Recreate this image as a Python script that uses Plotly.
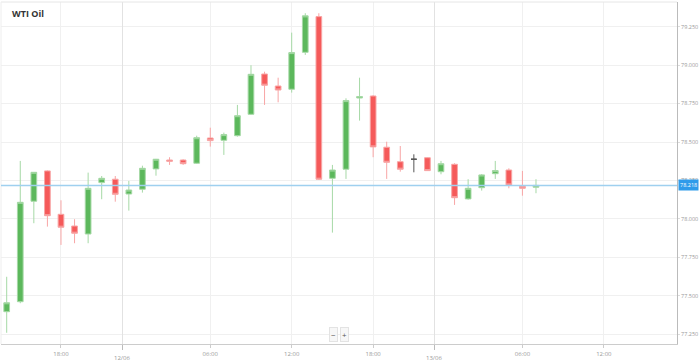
import plotly.graph_objects as go

# ---- data (hourly candles, WTI Oil) ----
candle_index = list(range(40))
opens = [77.397, 77.462, 78.115, 78.312, 78.030, 77.954, 77.902, 78.236, 78.258, 78.162,
         78.193, 78.325, 78.383, 78.383, 78.362, 78.526, 78.511, 78.541, 78.680, 78.942,
         78.864, 78.843, 79.083, 79.315, 78.264, 78.323, 78.786, 78.799, 78.466, 78.372,
         78.388, 78.398, 78.307, 78.355, 78.130, 78.203, 78.294, 78.318, 78.212, 78.206]
highs = [77.624, 78.377, 78.305, 78.316, 78.121, 77.998, 78.301, 78.279, 78.279, 78.247,
         78.346, 78.390, 78.401, 78.388, 78.541, 78.593, 78.561, 78.741, 78.999, 78.957,
         78.918, 79.211, 79.337, 79.337, 78.351, 78.784, 78.918, 78.805, 78.502, 78.474,
         78.420, 78.401, 78.377, 78.362, 78.258, 78.292, 78.377, 78.329, 78.312, 78.258]
lows = [77.260, 77.452, 77.972, 77.950, 77.831, 77.842, 77.842, 78.128, 78.112, 78.054,
        78.171, 78.281, 78.351, 78.351, 78.357, 78.470, 78.416, 78.535, 78.676, 78.741,
        78.758, 78.821, 79.066, 78.253, 77.911, 78.260, 78.639, 78.401, 78.260, 78.307,
        78.303, 78.314, 78.290, 78.091, 78.125, 78.184, 78.260, 78.199, 78.151, 78.167]
closes = [77.455, 78.108, 78.303, 78.021, 77.946, 77.907, 78.199, 78.264, 78.160, 78.188,
          78.329, 78.388, 78.375, 78.359, 78.528, 78.509, 78.548, 78.671, 78.940, 78.869,
          78.838, 79.081, 79.320, 78.258, 78.318, 78.769, 78.795, 78.468, 78.368, 78.323,
          78.388, 78.314, 78.359, 78.138, 78.199, 78.286, 78.314, 78.221, 78.199, 78.218]

time_tick_pos = [4, 15, 21, 27, 38, 44]
time_tick_labels = ["18:00", "06:00", "12:00", "18:00", "06:00", "12:00"]
date_tick_pos = [8.5, 31.5]
date_tick_labels = ["12/06", "13/06"]
price_ticks = [77.25, 77.5, 77.75, 78.0, 78.25, 78.5, 78.75, 79.0, 79.25]
title_text = "WTI Oil"

GREEN = "#5cb85c"
GREEN_L = "#a6d9a6"
RED = "#f55a5a"
RED_L = "#f8a5a5"
DOJI = "#555555"

moving = [i for i in candle_index if opens[i] != closes[i]]
flat = [i for i in candle_index if opens[i] == closes[i]]

fig = go.Figure()
fig.add_trace(go.Candlestick(
    x=[candle_index[i] for i in moving],
    open=[opens[i] for i in moving], high=[highs[i] for i in moving],
    low=[lows[i] for i in moving], close=[closes[i] for i in moving],
    increasing=dict(line=dict(color=GREEN_L, width=1), fillcolor=GREEN),
    decreasing=dict(line=dict(color=RED_L, width=1), fillcolor=RED),
    showlegend=False, hoverinfo="skip",
))
fig.add_trace(go.Candlestick(
    x=[candle_index[i] for i in flat],
    open=[opens[i] for i in flat], high=[highs[i] for i in flat],
    low=[lows[i] for i in flat], close=[closes[i] for i in flat],
    increasing=dict(line=dict(color=DOJI, width=1), fillcolor=DOJI),
    decreasing=dict(line=dict(color=DOJI, width=1), fillcolor=DOJI),
    showlegend=False, hoverinfo="skip",
))

x_range = [-0.42, 49.39]
y_range = [77.187, 79.41]

fig.update_layout(
    width=699, height=363,
    margin=dict(l=1, r=22, t=2, b=19),
    paper_bgcolor="white", plot_bgcolor="white",
    boxgap=0.4,
    hovermode=False,
    font=dict(family="Open Sans", size=6, color="#999999"),
    xaxis=dict(
        range=x_range, rangeslider=dict(visible=False),
        tickmode="array", tickvals=time_tick_pos, ticktext=time_tick_labels,
        showgrid=True, gridcolor="#f0f0f0", gridwidth=1,
        ticks="outside", ticklen=3, tickcolor="#cccccc",
        showline=True, linecolor="#cccccc", linewidth=1,
        zeroline=False, tickfont=dict(size=6, color="#999999"),
        ticklabelstandoff=1,
        fixedrange=True,
    ),
    xaxis2=dict(
        range=x_range, overlaying="x", side="bottom", anchor="y",
        tickmode="array", tickvals=date_tick_pos, showticklabels=False,
        showgrid=True, gridcolor="#e2e2e2", gridwidth=1,
        ticks="outside", ticklen=5, tickcolor="#bbbbbb",
        showline=False, zeroline=False, fixedrange=True,
    ),
    yaxis=dict(
        range=y_range, side="right",
        tickmode="array", tickvals=price_ticks,
        ticktext=[f"{v:.3f}" for v in price_ticks],
        showgrid=True, gridcolor="#f0f0f0", gridwidth=1,
        ticks="outside", ticklen=2, tickcolor="#dddddd",
        showline=True, linecolor="#bbbbbb", linewidth=1, mirror=False,
        zeroline=False, tickfont=dict(size=5.5, color="#999999"),
        ticklabelstandoff=0,
        fixedrange=True,
    ),
)

# empty trace to keep the date axis alive
fig.add_trace(go.Scatter(x=[], y=[], xaxis="x2", yaxis="y", showlegend=False))

# date labels under the time labels
for pos, lab in zip(date_tick_pos, date_tick_labels):
    fig.add_annotation(xref="x", yref="paper", x=pos, y=0, yshift=-14, xanchor="center",
                       yanchor="middle", text=lab, showarrow=False,
                       font=dict(size=6, color="#999999"))

# top border
fig.add_shape(type="line", xref="paper", yref="paper", x0=0, x1=1, y0=1, y1=1,
              line=dict(color="#e6e6e6", width=1))
# left border
fig.add_shape(type="line", xref="paper", yref="paper", x0=0, x1=0, y0=0, y1=1,
              line=dict(color="#eeeeee", width=1))

# current price line + label
last = closes[-1]
fig.add_shape(type="line", xref="paper", yref="y", x0=0, x1=1, y0=last, y1=last,
              line=dict(color="#9fd0ef", width=1.5))
fig.add_annotation(xref="paper", yref="y", x=1.002, y=last, xanchor="left", yanchor="middle",
                   text=f"{last:.3f}", showarrow=False, bgcolor="#2f9bea",
                   font=dict(size=5.5, color="white"), borderpad=1)

# title
fig.add_annotation(xref="paper", yref="paper", x=0.014, y=0.965, xanchor="left", yanchor="middle",
                   text=f"<b>{title_text}</b>", showarrow=False,
                   font=dict(family="Open Sans", size=9, color="#333333"))

# zoom buttons
for label, px in [("−", 333), ("+", 344)]:
    fig.add_annotation(xref="paper", yref="paper", x=(px - 1) / 676, y=(344 - 334) / 342,
                       xanchor="center", yanchor="middle", text=label, showarrow=False,
                       bgcolor="#f7f7f7", bordercolor="#e3e3e3", borderwidth=1, borderpad=1,
                       font=dict(size=8, color="#555555"))

fig.write_html("out.html",
               config={"displayModeBar": False, "staticPlot": False},
               post_script="document.body.style.margin='0';document.body.style.overflow='hidden';")
